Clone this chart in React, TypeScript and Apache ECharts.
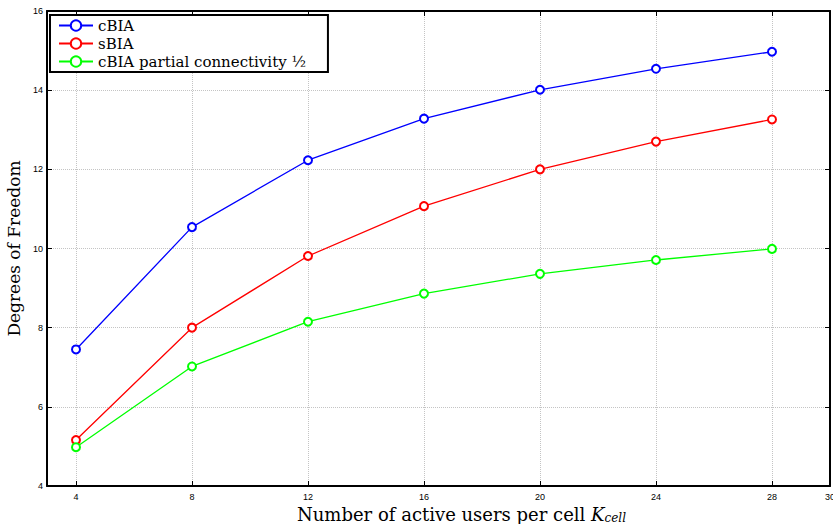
import React, { useEffect, useRef } from "react";
import * as echarts from "echarts";

const xValues = [4, 8, 12, 16, 20, 24, 28];
const xTickValues = [4, 8, 12, 16, 20, 24, 28, 30];
const cBIA = [7.45, 10.54, 12.23, 13.28, 14.01, 14.54, 14.97];
const sBIA = [5.16, 8.0, 9.81, 11.07, 12.0, 12.7, 13.26];
const cBIAPartial = [4.98, 7.02, 8.15, 8.86, 9.36, 9.71, 9.99];
const seriesNames = ["cBIA", "sBIA", "cBIA partial connectivity ½"];

const serif = "DejaVu Serif";
const sans = "Liberation Sans";

export default function App() {
  const ref = useRef<HTMLDivElement>(null);
  useEffect(() => {
    if (!ref.current) return;
    const chart = echarts.init(ref.current, undefined, { renderer: "svg" });
    const pair = (ys: number[]) => xValues.map((x, i) => [x, ys[i]]);
    const mkSeries = (name: string, data: number[], color: string) => ({
      name,
      type: "line",
      data: pair(data),
      symbol: "emptyCircle",
      symbolSize: 8,
      showSymbol: true,
      lineStyle: { color, width: 1.3 },
      itemStyle: { color, borderColor: color, borderWidth: 1.3 },
      emphasis: { disabled: true },
    });
    const tickLabel = { color: "#000", fontFamily: sans, fontSize: 9 };
    chart.setOption({
      animation: false,
      backgroundColor: "#fff",
      grid: { left: 47, top: 11, right: 3, bottom: 38, containLabel: false, outerBoundsMode: "none" },
      legend: {
        orient: "vertical",
        left: 50,
        top: 15,
        data: seriesNames,
        backgroundColor: "#fff",
        borderColor: "#000",
        borderWidth: 2,
        borderRadius: 0,
        padding: [3, 22, 3, 8],
        itemGap: 3,
        itemWidth: 34,
        itemHeight: 13,
        textStyle: { fontFamily: serif, fontSize: 15, color: "#000" },
      },
      xAxis: [
        {
          type: "value",
          min: 3,
          max: 30,
          name: "Number of active users per cell {k|K}{sub|cell}",
          nameLocation: "middle",
          nameGap: 10,
          nameTextStyle: {
            fontFamily: serif,
            fontSize: 18,
            color: "#000",
            padding: [0, 0, 0, 46],
            rich: {
              k: { fontFamily: serif, fontSize: 18, fontStyle: "italic", color: "#000" },
              sub: { fontFamily: serif, fontSize: 12, fontStyle: "italic", color: "#000", verticalAlign: "bottom", padding: [6, 0, 0, 0] },
            },
          },
          axisLine: { show: true, onZero: false, lineStyle: { color: "#000", width: 2 } },
          axisTick: { show: true, inside: true, length: 5, customValues: xTickValues, lineStyle: { color: "#000" } },
          axisLabel: { ...tickLabel, margin: 6, customValues: xTickValues },
          splitLine: { show: true, lineStyle: { color: "#c4c4c4", type: "dotted", width: 1 } },
        },
        {
          type: "value",
          position: "top",
          min: 3,
          max: 30,
          axisLine: { show: true, onZero: false, lineStyle: { color: "#000", width: 2 } },
          axisTick: { show: true, inside: true, length: 5, customValues: xTickValues, lineStyle: { color: "#000" } },
          axisLabel: { show: false, customValues: xTickValues },
          splitLine: { show: false },
        },
      ],
      yAxis: [
        {
          type: "value",
          min: 4,
          max: 16,
          interval: 2,
          name: "Degrees of Freedom",
          nameLocation: "middle",
          nameGap: 19,
          nameTextStyle: { fontFamily: serif, fontSize: 17, color: "#000" },
          axisLine: { show: true, onZero: false, lineStyle: { color: "#000", width: 2 } },
          axisTick: { show: true, inside: true, length: 5, lineStyle: { color: "#000" } },
          axisLabel: { ...tickLabel, margin: 4 },
          splitLine: { show: true, lineStyle: { color: "#c4c4c4", type: "dotted", width: 1 } },
        },
        {
          type: "value",
          position: "right",
          min: 4,
          max: 16,
          interval: 2,
          axisLine: { show: true, onZero: false, lineStyle: { color: "#000", width: 2 } },
          axisTick: { show: true, inside: true, length: 5, lineStyle: { color: "#000" } },
          axisLabel: { show: false },
          splitLine: { show: false },
        },
      ],
      series: [
        mkSeries(seriesNames[0], cBIA, "#0000ff"),
        mkSeries(seriesNames[1], sBIA, "#ff0000"),
        mkSeries(seriesNames[2], cBIAPartial, "#00ff00"),
      ],
    });
    return () => chart.dispose();
  }, []);
  return (
    <div
      ref={ref}
      style={{ position: "fixed", left: 0, top: 0, width: 833, height: 524 }}
    />
  );
}
